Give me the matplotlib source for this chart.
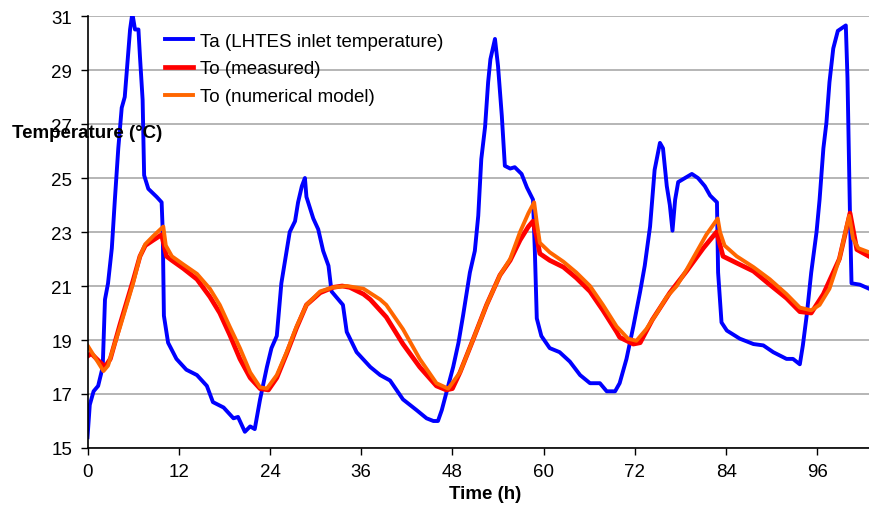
import matplotlib
matplotlib.use("Agg")
import matplotlib.pyplot as plt

plt.rcParams['font.family'] = ['Liberation Sans', 'DejaVu Sans']

# Ta (LHTES inlet temperature)
ta_time = [0.0, 0.3, 0.8, 1.4, 2.0, 2.3, 2.7, 3.2, 3.6, 4.05, 4.5, 4.9, 5.4, 5.6, 5.9,
           6.25, 6.7, 6.9, 7.25, 7.45, 8.0, 9.1, 9.75, 9.9, 10.05, 10.6, 11.7, 13.0,
           14.4, 15.7, 16.5, 17.9, 19.2, 19.8, 20.7, 21.4, 22.0, 22.7, 23.6, 24.2,
           24.9, 25.5, 26.2, 26.6, 27.3, 27.7, 28.2, 28.6, 28.8, 29.7, 30.35, 31.0,
           31.7, 32.1, 33.6, 34.1, 35.4, 37.2, 38.5, 39.8, 41.5, 43.3, 44.6, 45.5,
           46.1, 46.6, 47.45, 48.1, 48.8, 49.4, 50.3, 50.95, 51.4, 51.8, 52.3, 52.7,
           53.0, 53.6, 54.0, 54.5, 54.9, 55.6, 56.2, 57.1, 57.8, 58.6, 58.85, 59.1,
           59.7, 60.8, 62.1, 63.45, 64.8, 66.1, 67.4, 68.3, 69.4, 70.0, 70.9, 71.8,
           72.7, 73.3, 74.0, 74.6, 75.3, 75.7, 76.2, 76.6, 76.95, 77.3, 77.7, 78.6,
           79.5, 80.3, 81.2, 81.9, 82.8, 82.95, 83.4, 84.1, 85.8, 87.6, 88.9, 90.2,
           91.95, 92.8, 93.7, 94.1, 94.6, 95.2, 95.9, 96.3, 96.8, 97.2, 97.6, 98.1,
           98.7, 99.75, 99.97, 100.3, 100.5, 101.6, 102.8]
ta_temp = [15.4, 16.6, 17.1, 17.3, 18.0, 20.5, 21.1, 22.4, 24.2, 26.1, 27.6, 28.0, 29.8,
           30.5, 31.1, 30.5, 30.5, 29.5, 27.9, 25.1, 24.6, 24.3, 24.1, 23.0, 19.9,
           18.9, 18.3, 17.9, 17.7, 17.3, 16.7, 16.5, 16.1, 16.15, 15.6, 15.8, 15.7,
           16.8, 18.0, 18.7, 19.15, 21.1, 22.3, 23.0, 23.4, 24.1, 24.7, 25.0, 24.3,
           23.5, 23.1, 22.3, 21.75, 20.8, 20.3, 19.3, 18.55, 18.0, 17.7, 17.5, 16.8,
           16.4, 16.1, 16.0, 16.0, 16.4, 17.3, 18.0, 18.9, 19.9, 21.5, 22.3, 23.6,
           25.7, 26.9, 28.55, 29.4, 30.15, 29.15, 27.3, 25.45, 25.35, 25.4, 25.15,
           24.65, 24.2, 22.25, 19.8, 19.15, 18.7, 18.55, 18.2, 17.7, 17.4, 17.4,
           17.1, 17.1, 17.4, 18.3, 19.5, 20.8, 21.75, 23.2, 25.3, 26.3, 26.1, 24.7,
           24.0, 23.05, 24.2, 24.85, 25.0, 25.15, 25.0, 24.7, 24.35, 24.1, 21.5,
           19.65, 19.35, 19.05, 18.85, 18.8, 18.55, 18.3, 18.3, 18.1, 18.8, 19.9,
           21.5, 23.0, 24.2, 26.1, 27.05, 28.55, 29.8, 30.45, 30.65, 28.7, 23.6,
           21.1, 21.05, 20.9]

# To (measured)
meas_time = [0.0, 0.5, 1.2, 2.3, 3.0, 3.6, 4.3, 5.15, 6.0, 6.9, 7.6, 8.65, 9.75, 10.4,
             11.1, 12.6, 14.4, 16.1, 17.4, 18.7, 20.05, 21.4, 22.7, 23.8, 24.9, 26.2,
             27.5, 28.8, 30.6, 32.3, 33.5, 34.5, 36.3, 37.2, 39.3, 41.5, 43.7, 45.9,
             47.2, 48.0, 49.0, 50.7, 52.5, 54.25, 55.6, 56.9, 58.0, 58.6, 59.1, 59.5,
             60.8, 62.6, 64.3, 66.1, 67.8, 69.6, 70.0, 71.8, 72.7, 74.3, 76.6, 78.8,
             81.0, 82.75, 83.6, 85.4, 87.6, 89.75, 91.95, 93.7, 95.2, 96.8, 98.9,
             100.3, 101.2, 102.8]
meas_temp = [18.4, 18.5, 18.3, 18.0, 18.3, 18.9, 19.6, 20.4, 21.2, 22.1, 22.5, 22.7,
             22.9, 22.1, 21.95, 21.65, 21.25, 20.6, 20.0, 19.2, 18.3, 17.6, 17.2,
             17.15, 17.6, 18.5, 19.45, 20.3, 20.75, 20.95, 21.0, 20.95, 20.7, 20.5,
             19.85, 18.85, 18.0, 17.3, 17.15, 17.2, 17.8, 19.0, 20.3, 21.4, 21.95,
             22.7, 23.2, 23.4, 22.8, 22.2, 21.95, 21.7, 21.3, 20.8, 20.1, 19.3, 19.1,
             18.85, 18.9, 19.75, 20.75, 21.55, 22.4, 23.0, 22.1, 21.85, 21.55, 21.05,
             20.55, 20.05, 20.0, 20.7, 22.0, 23.7, 22.35, 22.1]

# To (numerical model)
model_time = [0.0, 1.0, 2.1, 2.7, 3.4, 4.3, 5.15, 6.0, 6.9, 7.6, 8.65, 9.97, 10.3, 11.1,
              12.6, 14.4, 16.1, 17.4, 18.7, 20.05, 21.4, 22.7, 23.6, 24.9, 26.2, 27.5,
              28.8, 30.6, 32.3, 34.1, 36.3, 38.5, 39.3, 41.5, 43.7, 45.9, 47.45, 49.0,
              50.7, 52.5, 54.25, 55.6, 56.9, 58.0, 58.75, 59.1, 59.5, 60.8, 62.6, 64.3,
              66.1, 67.8, 69.6, 71.1, 72.2, 73.5, 74.9, 76.2, 77.5, 78.8, 80.1, 81.4,
              82.9, 83.2, 83.8, 85.4, 87.6, 89.75, 91.95, 93.7, 95.2, 96.3, 97.6, 98.9,
              99.85, 100.2, 100.7, 101.4, 102.8]
model_temp = [18.8, 18.35, 17.85, 18.05, 18.7, 19.5, 20.3, 21.1, 22.1, 22.55, 22.85,
              23.2, 22.5, 22.1, 21.8, 21.45, 20.9, 20.3, 19.5, 18.7, 17.8, 17.25, 17.2,
              17.7, 18.55, 19.5, 20.3, 20.8, 20.95, 21.0, 20.9, 20.5, 20.3, 19.4, 18.3,
              17.4, 17.2, 17.8, 19.0, 20.3, 21.4, 22.0, 23.0, 23.7, 24.1, 23.35, 22.6,
              22.25, 21.9, 21.5, 21.0, 20.3, 19.5, 19.05, 18.97, 19.4, 20.0, 20.6, 21.0,
              21.6, 22.25, 22.9, 23.5, 23.0, 22.5, 22.1, 21.7, 21.25, 20.7, 20.2, 20.1,
              20.3, 20.9, 22.0, 23.2, 23.6, 22.75, 22.4, 22.25]

x_ticks = [0, 12, 24, 36, 48, 60, 72, 84, 96]
y_ticks = [15, 17, 19, 21, 23, 25, 27, 29, 31]

fig = plt.figure(figsize=(8.69, 5.06), dpi=100)
ax = fig.add_axes([87.5 / 869, 57 / 506, 1 - 87.5 / 869, 432 / 506])

ax.plot(ta_time, ta_temp, color='#0000ff', lw=2.8, label='Ta (LHTES inlet temperature)')
ax.plot(meas_time, meas_temp, color='#ff0000', lw=3.4, label='To (measured)')
ax.plot(model_time, model_temp, color='#ff6600', lw=2.8, label='To (numerical model)')

ax.set_xlim(0, 102.8)
ax.set_ylim(15, 31)
ax.set_xticks(x_ticks)
ax.set_yticks(y_ticks)
ax.tick_params(labelsize=13.5, length=5, width=1, pad=6)
ax.yaxis.grid(True, color='#b0b0b0', lw=1.3)
ax.set_axisbelow(True)
for s in ['top', 'right']:
    ax.spines[s].set_visible(False)
ax.spines['left'].set_linewidth(1.2)
ax.spines['bottom'].set_linewidth(1.2)

ax.legend(loc='upper left', bbox_to_anchor=(0.099, 0.962), frameon=False,
          fontsize=13.5, handlelength=1.5, handletextpad=0.4, labelspacing=0.57,
          borderpad=0, borderaxespad=0)

# the label sits over the "27" tick in the original too
fig.text(12 / 869, 1 - 134 / 506, 'Temperature (°C)', fontsize=13.5, fontweight='bold',
         va='center', ha='left')
fig.text(485 / 869, 1 - 495 / 506, 'Time (h)', fontsize=13.5, fontweight='bold',
         va='center', ha='center')

fig.savefig('out.png', dpi=100)
